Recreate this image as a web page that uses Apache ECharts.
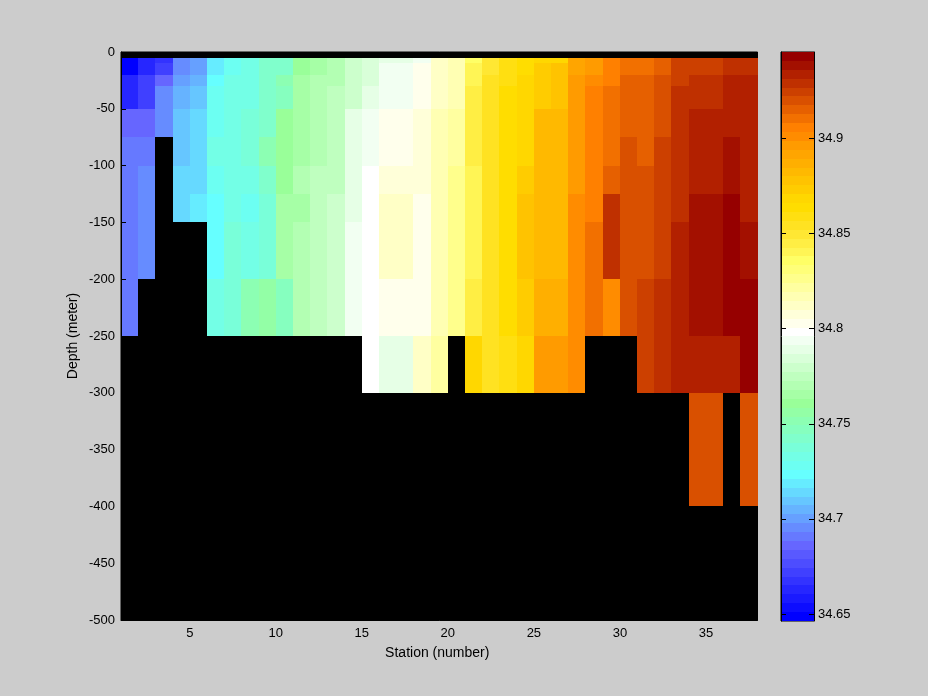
<!DOCTYPE html>
<html>
<head>
<meta charset="utf-8">
<style>html,body{margin:0;padding:0;background:#ccc}#c{width:928px;height:696px}</style>
<script src="https://cdn.jsdelivr.net/npm/echarts@6/dist/echarts.min.js"></script>
</head>
<body>
<div id="c"></div>
<script>
const stationEdges = [1,2,3,4,5,6,7,8,9,10,11,12,13,14,15,16,17,18,19,20,21,22,23,24,25,26,27,28,29,30,31,32,33,34,35,36,37,38];
const depthEdges = [-5,-10,-20,-30,-50,-75,-100,-125,-150,-200,-250,-300,-400];
const xTicks = [5,10,15,20,25,30,35];
const barTicks = [34.65,34.7,34.75,34.8,34.85,34.9];
const barMin = 34.6463, barMax = 34.9455;
const _ = null;
const d5 = [34.649,34.663,34.667,34.695,34.700,34.719,34.728,34.733,34.742,34.742,34.761,34.765,34.770,34.779,34.784,34.789,34.789,34.793,34.812,34.817,34.836,34.850,34.859,34.864,34.868,34.868,34.892,34.896,34.906,34.910,34.910,34.915,34.924,34.924,34.924,34.929,34.929];
const d10 = [34.649,34.663,34.672,34.695,34.700,34.719,34.728,34.733,34.742,34.742,34.761,34.765,34.770,34.779,34.784,34.793,34.793,34.803,34.812,34.817,34.840,34.850,34.859,34.864,34.873,34.878,34.892,34.896,34.906,34.910,34.910,34.915,34.924,34.924,34.924,34.929,34.929];
const d20 = [34.663,34.672,34.686,34.700,34.705,34.723,34.733,34.733,34.742,34.751,34.765,34.770,34.770,34.779,34.784,34.793,34.793,34.803,34.812,34.817,34.840,34.854,34.859,34.868,34.873,34.878,34.896,34.901,34.906,34.915,34.915,34.920,34.924,34.929,34.929,34.934,34.934];
const d30 = [34.663,34.672,34.695,34.705,34.709,34.728,34.733,34.733,34.742,34.747,34.765,34.770,34.775,34.779,34.789,34.793,34.793,34.803,34.812,34.817,34.845,34.854,34.864,34.868,34.873,34.878,34.896,34.906,34.910,34.915,34.915,34.920,34.929,34.929,34.929,34.934,34.934];
const d50 = [34.686,34.686,34.695,34.709,34.714,34.728,34.733,34.737,34.742,34.761,34.765,34.770,34.775,34.789,34.793,34.803,34.803,34.807,34.817,34.821,34.845,34.854,34.864,34.868,34.882,34.882,34.896,34.906,34.910,34.915,34.915,34.920,34.929,34.934,34.934,34.934,34.934];
const d75 = [34.691,34.691,_,34.709,34.714,34.733,34.733,34.737,34.751,34.761,34.765,34.770,34.775,34.789,34.793,34.803,34.803,34.807,34.817,34.821,34.845,34.854,34.864,34.868,34.882,34.882,34.896,34.906,34.910,34.920,34.915,34.924,34.929,34.934,34.934,34.938,34.934];
const d100 = [34.691,34.695,_,34.714,34.714,34.728,34.733,34.733,34.742,34.761,34.770,34.775,34.775,34.789,34.798,34.807,34.807,34.807,34.817,34.826,34.840,34.854,34.864,34.873,34.882,34.882,34.896,34.906,34.915,34.920,34.920,34.924,34.929,34.934,34.934,34.938,34.934];
const d125 = [34.691,34.695,_,34.714,34.719,34.723,34.733,34.728,34.737,34.765,34.765,34.775,34.779,34.789,34.798,34.812,34.812,34.803,34.817,34.826,34.840,34.854,34.864,34.878,34.882,34.882,34.901,34.906,34.929,34.920,34.920,34.924,34.929,34.938,34.938,34.943,34.934];
const d150 = [34.691,34.695,_,_,_,34.723,34.737,34.733,34.737,34.765,34.770,34.775,34.779,34.793,34.798,34.812,34.812,34.803,34.817,34.826,34.840,34.854,34.864,34.878,34.882,34.882,34.901,34.910,34.929,34.920,34.920,34.924,34.934,34.938,34.938,34.943,34.938];
const d200 = [34.691,_,_,_,_,34.733,34.737,34.751,34.756,34.747,34.770,34.775,34.779,34.793,34.798,34.803,34.803,34.803,34.817,34.826,34.845,34.854,34.864,34.873,34.887,34.887,34.901,34.910,34.901,34.920,34.924,34.929,34.934,34.938,34.938,34.943,34.943];
const d250 = [_,_,_,_,_,_,_,_,_,_,_,_,_,_,34.798,34.789,34.789,34.812,34.821,_,34.868,34.854,34.859,34.868,34.896,34.896,34.901,_,_,_,34.924,34.929,34.934,34.934,34.934,34.934,34.943];
const d300 = [_,_,_,_,_,_,_,_,_,_,_,_,_,_,_,_,_,_,_,_,_,_,_,_,_,_,_,_,_,_,_,_,_,34.920,34.920,_,34.920];
const depthRows = [d5,d10,d20,d30,d50,d75,d100,d125,d150,d200,d250,d300];
const colormap = [
'#0000ff','#0d0dff','#1a1aff','#2626ff','#3333ff','#4040ff','#4d4dff','#5959ff',
'#6666ff','#6679ff','#668cff','#66a0ff','#66b3ff','#66c6ff','#66d9ff','#66ecff',
'#66ffff','#6cfff2','#73ffe6','#79ffd9','#80ffcc','#86ffbf','#8cffb3','#93ffa6',
'#99ff99','#a6ffa6','#b3ffb3','#bfffbf','#ccffcc','#d9ffd9','#e6ffe6','#f2fff2',
'#ffffff','#ffffec','#ffffd9','#ffffc6','#ffffb3','#ffffa0','#ffff8c','#ffff79',
'#ffff66','#fff555','#ffee44','#ffe733','#ffe222','#ffdf11','#ffdd00','#ffd700',
'#ffcc00','#ffc300','#ffb900','#ffaf00','#ffa500','#ff9b00','#ff8c00','#ff8000',
'#f27000','#e66000','#d95000','#cc4000','#bf3000','#b22000','#a31000','#960000'];

const fontFamily = '"Liberation Sans", Arial, sans-serif';
const colorOf = v => {
  let k = Math.floor((v - barMin) / (barMax - barMin) * colormap.length);
  return colormap[Math.max(0, Math.min(colormap.length - 1, k))];
};
const cells = [];
depthRows.forEach((row, r) => row.forEach((v, c) => {
  if (v !== null) cells.push([stationEdges[c], stationEdges[c + 1], depthEdges[r], r + 1 < depthEdges.length ? depthEdges[r + 1] : -500, v]);
}));
const step = (barMax - barMin) / colormap.length;
const barCells = colormap.map((col, k) => [0, 1, barMin + k * step, barMin + (k + 1) * step, barMin + (k + 0.5) * step]);
const rectItem = (params, api) => {
  const a = api.coord([api.value(0), api.value(2)]);
  const b = api.coord([api.value(1), api.value(3)]);
  const x0 = Math.round(a[0]), x1 = Math.round(b[0]), y0 = Math.round(a[1]), y1 = Math.round(b[1]);
  return {type: 'rect', shape: {x: x0, y: y0, width: x1 - x0, height: y1 - y0},
          style: {fill: colorOf(api.value(4))}, silent: true};
};
const lab = {color: '#000', fontFamily, fontSize: 13};
const line = {show: true, onZero: false, lineStyle: {color: '#000', width: 1}};
const tick = {show: true, inside: true, length: 5, lineStyle: {color: '#000', width: 1}};
const chart = echarts.init(document.getElementById('c'), null, {renderer: 'canvas'});
chart.setOption({
  animation: false,
  backgroundColor: '#cccccc',
  grid: [
    {left: 121, top: 52, width: 636.5, height: 568, show: true, backgroundColor: '#000', borderColor: '#000', borderWidth: 1},
    {left: 781, top: 52, width: 33, height: 569, show: true, backgroundColor: '#000', borderColor: '#000', borderWidth: 1}
  ],
  xAxis: [
    {gridIndex: 0, type: 'value', min: 1, max: 38, position: 'bottom', z: 10, axisLine: line,
     axisTick: {...tick, customValues: xTicks}, splitLine: {show: false},
     axisLabel: {...lab, margin: 7, customValues: xTicks},
     name: 'Station (number)', nameLocation: 'middle', nameGap: 26, nameMoveOverlap: false,
     nameTextStyle: {color: '#000', fontFamily, fontSize: 14, padding: [0, 4, 0, 0]}},
    {gridIndex: 1, type: 'value', min: 0, max: 1, show: false}
  ],
  yAxis: [
    {gridIndex: 0, type: 'value', min: -500, max: 0, interval: 50, position: 'left', z: 10, axisLine: line, axisTick: tick,
     splitLine: {show: false}, axisLabel: {...lab, margin: 6},
     name: 'Depth (meter)', nameLocation: 'middle', nameGap: 41, nameRotate: 90, nameMoveOverlap: false,
     nameTextStyle: {color: '#000', fontFamily, fontSize: 14}},
    {gridIndex: 1, type: 'value', min: barMin, max: barMax, position: 'right', z: 10, axisLine: line,
     axisTick: {...tick, customValues: barTicks}, splitLine: {show: false},
     axisLabel: {...lab, margin: 4, customValues: barTicks, formatter: v => String(+(+v).toFixed(2))}},
    {gridIndex: 1, type: 'value', min: barMin, max: barMax, position: 'left', z: 10, axisLine: line,
     axisTick: {...tick, customValues: barTicks}, splitLine: {show: false},
     axisLabel: {show: false, customValues: barTicks}}
  ],
  series: [
    {type: 'custom', xAxisIndex: 0, yAxisIndex: 0, coordinateSystem: 'cartesian2d', clip: true, silent: true,
     renderItem: rectItem, encode: {x: [0, 1], y: [2, 3]}, data: cells},
    {type: 'custom', xAxisIndex: 1, yAxisIndex: 1, coordinateSystem: 'cartesian2d', clip: true, silent: true,
     renderItem: rectItem, encode: {x: [0, 1], y: [2, 3]}, data: barCells}
  ]
});
</script>
</body>
</html>
